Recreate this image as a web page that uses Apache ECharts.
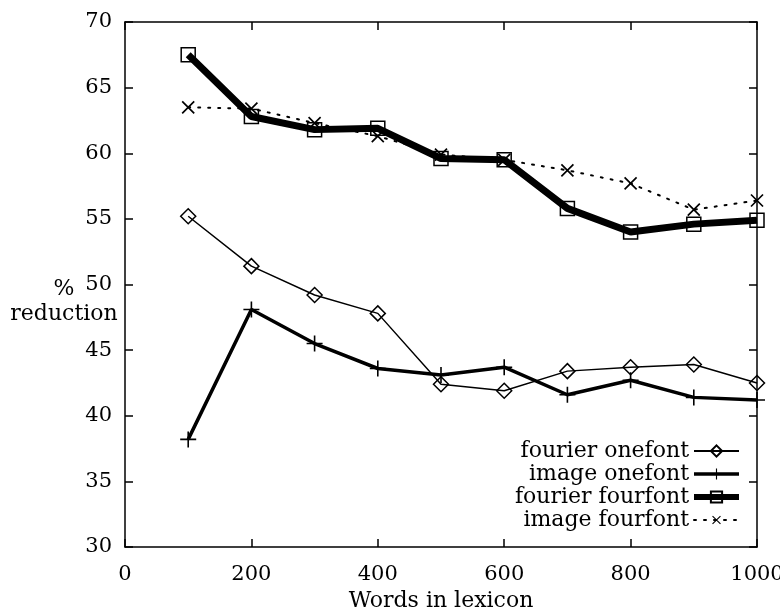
<!DOCTYPE html>
<html style="height: 100%" lang="en">
<head>
    <meta charset="UTF-8">
    <title>% reduction vs words in lexicon</title>
</head>
<body style="height: 100%; margin: 0; background: #fff">
<div id="main" style="width: 780px; height: 608px"></div>

<script src="https://cdn.jsdelivr.net/npm/echarts@6/dist/echarts.min.js"></script>
<script type="text/javascript">

    // words in lexicon
    var words = [100, 200, 300, 400, 500, 600, 700, 800, 900, 1000];

    // % reduction, one array per curve
    var fourierOnefont = [55.2, 51.4, 49.2, 47.8, 42.4, 41.9, 43.4, 43.7, 43.9, 42.5];
    var imageOnefont   = [38.2, 48.1, 45.5, 43.6, 43.1, 43.7, 41.6, 42.7, 41.4, 41.2];
    var fourierFourfont = [67.5, 62.8, 61.8, 61.9, 59.6, 59.5, 55.8, 54.0, 54.6, 54.9];
    var imageFourfont  = [63.5, 63.4, 62.3, 61.3, 59.9, 59.5, 58.7, 57.7, 55.7, 56.4];

    var legendNames = ['fourier onefont', 'image onefont', 'fourier fourfont', 'image fourfont'];

    function pairs(ys) {
        return ys.map(function (y, i) { return [words[i], y]; });
    }

    var serif = 'DejaVu Serif';
    var plus = 'path://M0,9H20V11H0ZM9,0H11V20H9Z';

    var chart = echarts.init(document.getElementById('main'));

    var axisBase = {
        type: 'value',
        axisLine: { show: true, onZero: false, lineStyle: { color: '#000', width: 1.5 } },
        axisTick: { show: true, inside: true, length: 8, lineStyle: { color: '#000', width: 1.5 } },
        splitLine: { show: false }
    };

    var option = {
        backgroundColor: '#fff',
        animation: false,
        // y axis title sits left of the tick labels, two centred lines
        title: {
            text: '%\nreduction',
            left: 64,
            top: 277,
            padding: 0,
            textAlign: 'center',
            textStyle: { fontFamily: serif, fontSize: 22, fontWeight: 'normal', color: '#000', lineHeight: 25 }
        },
        grid: { left: 125, right: 23, top: 22, bottom: 61, containLabel: false, outerBoundsMode: 'none' },
        legend: {
            data: [
                { name: legendNames[0] },
                { name: legendNames[1], lineStyle: { width: 3.5 } },
                { name: legendNames[2], lineStyle: { width: 6 } },
                { name: legendNames[3] }
            ],
            orient: 'vertical',
            align: 'right',
            right: 33,
            top: 435,
            itemWidth: 45,
            itemHeight: 14,
            itemGap: 1,
            textStyle: { fontFamily: serif, fontSize: 22, color: '#000', lineHeight: 22 }
        },
        xAxis: [
            Object.assign({}, axisBase, {
                min: 0, max: 1000, interval: 200,
                position: 'bottom',
                name: 'Words in lexicon',
                nameLocation: 'middle',
                nameGap: 37,
                nameTextStyle: { fontFamily: serif, fontSize: 22, color: '#000' },
                axisLabel: {
                    fontFamily: serif, fontSize: 21, color: '#000', margin: 17,
                    formatter: function (v) { return String(v); }
                }
            }),
            Object.assign({}, axisBase, {
                min: 0, max: 1000, interval: 200,
                position: 'top',
                axisLabel: { show: false }
            })
        ],
        yAxis: [
            Object.assign({}, axisBase, {
                min: 30, max: 70, interval: 5,
                position: 'left',
                axisLabel: { fontFamily: serif, fontSize: 21, color: '#000', margin: 13 }
            }),
            Object.assign({}, axisBase, {
                min: 30, max: 70, interval: 5,
                position: 'right',
                axisLabel: { show: false }
            })
        ],
        series: [
            {
                name: legendNames[0],
                type: 'line',
                data: pairs(fourierOnefont),
                symbol: 'diamond',
                symbolSize: [15, 15],
                lineStyle: { color: '#000', width: 1.5 },
                itemStyle: { color: 'rgba(0,0,0,0)', borderColor: '#000', borderWidth: 1.5 }
            },
            {
                name: legendNames[1],
                type: 'line',
                data: pairs(imageOnefont),
                symbol: plus,
                symbolSize: 16,
                lineStyle: { color: '#000', width: 3.5 },
                itemStyle: { color: '#000' }
            },
            {
                name: legendNames[2],
                type: 'line',
                data: pairs(fourierFourfont),
                symbol: 'rect',
                symbolSize: 14,
                lineStyle: { color: '#000', width: 7 },
                itemStyle: { color: 'rgba(0,0,0,0)', borderColor: '#000', borderWidth: 1.5 }
            },
            {
                name: legendNames[3],
                type: 'line',
                data: pairs(imageFourfont),
                symbol: plus,
                symbolRotate: 45,
                symbolSize: 17,
                lineStyle: { color: '#000', width: 2, type: [2, 8], cap: 'round' },
                itemStyle: { color: '#000' }
            }
        ]
    };

    chart.setOption(option);

</script>
</body>
</html>
